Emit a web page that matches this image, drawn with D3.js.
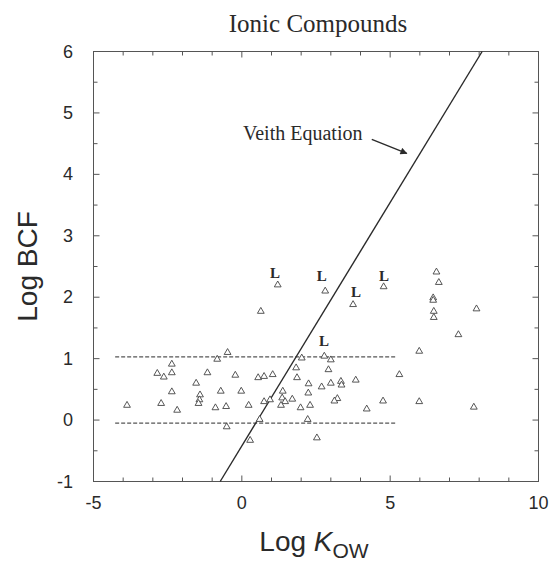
<!DOCTYPE html>
<html>
<head>
<meta charset="UTF-8">
<title>Ionic Compounds</title>
<script src="https://d3js.org/d3.v7.min.js"></script>
<style>
  body { margin: 0; background: #fff; }
</style>
</head>
<body>
<svg id="chart"></svg>
<script>
// data
var logKow = [-0.48, -0.83, -2.36, -2.36, -2.85, -2.63, -1.16, -0.22, 0.55, 0.75,
              -1.54, -2.36, -0.71, -0.02, -1.41, -1.43, -1.46, -3.87, -2.72, -0.89,
              -0.53, 0.23, -2.18, -0.51, 0.28, 2.02, 2.78, 3.00, 2.92, 1.83,
              1.04, 1.86, 2.25, 2.69, 3.00, 3.34, 3.36, 3.84, 5.31, 1.38,
              2.24, 0.75, 0.95, 1.36, 1.46, 1.70, 2.30, 1.98, 3.22, 3.12,
              4.76, 4.21, 0.60, 2.22, 2.53, 6.56, 6.64, 6.45, 6.45, 6.47,
              6.47, 7.91, 7.30, 5.98, 5.98, 7.82, 1.21, 2.81, 3.75, 4.78,
              0.64, 1.32];
var logBcf = [1.10, 0.99, 0.91, 0.77, 0.76, 0.70, 0.77, 0.73, 0.69, 0.71,
              0.60, 0.46, 0.47, 0.47, 0.41, 0.33, 0.27, 0.24, 0.27, 0.20,
              0.22, 0.24, 0.16, -0.11, -0.33, 1.01, 1.04, 0.98, 0.82, 0.85,
              0.74, 0.69, 0.59, 0.54, 0.60, 0.63, 0.57, 0.65, 0.74, 0.47,
              0.44, 0.30, 0.33, 0.36, 0.30, 0.34, 0.24, 0.20, 0.35, 0.31,
              0.31, 0.18, 0.01, 0.01, -0.29, 2.41, 2.24, 1.99, 1.95, 1.77,
              1.67, 1.81, 1.39, 1.12, 0.30, 0.21, 2.20, 2.10, 1.88, 2.17,
              1.77, 0.24];

// "L" annotations
var lLabelX = [1.12, 2.69, 3.85, 4.79, 2.77];
var lLabelY = [2.40, 2.34, 2.09, 2.34, 1.28];

// Veith equation line and the two dashed bounds
var veithX = [-0.73, 8.10];
var veithY = [-1, 6];
var boundX = [-4.27, 5.23];
var boundY = [1.03, -0.05];

var arrowFrom = [4.38, 4.57];
var arrowTo = [5.56, 4.34];
var veithLabelPos = [0.04, 4.56];

var xTickValues = d3.range(-5, 11, 1);
var xTickLabels = [-5, 0, 5, 10];
var yTickValues = d3.range(-1, 6.01, 0.5);
var yTickLabels = [-1, 0, 1, 2, 3, 4, 5, 6];

(function() {
    var width = 552;
    var height = 562;
    var left = 93.5, right = 538.5, top = 51.5, bottom = 481.5;

    var svg = d3.select("#chart")
        .attr("width", width)
        .attr("height", height);

    var x = d3.scaleLinear().domain([-5, 10]).range([left, right]);
    var y = d3.scaleLinear().domain([-1, 6]).range([bottom, top]);

    var sans = "'Liberation Sans', Arial, Helvetica, sans-serif";
    var serif = "'Liberation Serif', 'Times New Roman', serif";
    var ink = "#2a2a2a";

    svg.append("defs").append("marker")
        .attr("id", "head")
        .attr("viewBox", "0 0 10 10")
        .attr("refX", 9).attr("refY", 5)
        .attr("markerWidth", 9).attr("markerHeight", 7)
        .attr("markerUnits", "userSpaceOnUse")
        .attr("orient", "auto")
        .append("path")
        .attr("d", "M0,0 L10,5 L0,10 z")
        .attr("fill", ink);

    // frame
    svg.append("rect")
        .attr("x", left).attr("y", top)
        .attr("width", right - left).attr("height", bottom - top)
        .attr("fill", "none").attr("stroke", "#555").attr("stroke-width", 1);

    // ticks, all pointing inward, on the four sides
    var g = svg.append("g").attr("stroke", "#555").attr("stroke-width", 1);
    xTickValues.forEach(function(v) {
        var len = xTickLabels.indexOf(v) >= 0 ? 6 : 4;
        g.append("line").attr("x1", x(v)).attr("x2", x(v)).attr("y1", bottom).attr("y2", bottom - len);
        g.append("line").attr("x1", x(v)).attr("x2", x(v)).attr("y1", top).attr("y2", top + len);
    });
    yTickValues.forEach(function(v) {
        var len = yTickLabels.indexOf(v) >= 0 ? 6 : 4;
        g.append("line").attr("y1", y(v)).attr("y2", y(v)).attr("x1", left).attr("x2", left + len);
        g.append("line").attr("y1", y(v)).attr("y2", y(v)).attr("x1", right).attr("x2", right - len);
    });

    svg.selectAll(".xl")
        .data(xTickLabels)
        .enter().append("text")
        .attr("x", function(d) { return x(d); })
        .attr("y", 509)
        .attr("text-anchor", "middle")
        .attr("font-family", sans).attr("font-size", 18).attr("fill", ink)
        .text(function(d) { return d; });

    svg.selectAll(".yl")
        .data(yTickLabels)
        .enter().append("text")
        .attr("x", 73)
        .attr("y", function(d) { return y(d) + 6; })
        .attr("text-anchor", "end")
        .attr("font-family", sans).attr("font-size", 18).attr("fill", ink)
        .text(function(d) { return d; });

    // titles
    svg.append("text")
        .attr("x", 318).attr("y", 32)
        .attr("text-anchor", "middle")
        .attr("font-family", serif).attr("font-size", 25).attr("fill", ink)
        .text("Ionic Compounds");

    svg.append("text")
        .attr("transform", "translate(37," + ((top + bottom) / 2) + ") rotate(-90)")
        .attr("text-anchor", "middle")
        .attr("font-family", sans).attr("font-size", 28).attr("fill", ink)
        .text("Log BCF");

    var xt = svg.append("text")
        .attr("x", 314).attr("y", 551)
        .attr("text-anchor", "middle")
        .attr("font-family", sans).attr("font-size", 28).attr("fill", ink);
    xt.append("tspan").text("Log ");
    xt.append("tspan").attr("font-style", "italic").text("K");
    xt.append("tspan").attr("font-size", 21).attr("dy", 7).text("OW");

    // dashed bounds
    boundY.forEach(function(v) {
        svg.append("line")
            .attr("x1", x(boundX[0])).attr("x2", x(boundX[1]))
            .attr("y1", y(v)).attr("y2", y(v))
            .attr("stroke", "#555").attr("stroke-width", 1.3)
            .attr("stroke-dasharray", "4,2");
    });

    // Veith line
    svg.append("line")
        .attr("x1", x(veithX[0])).attr("y1", y(veithY[0]))
        .attr("x2", x(veithX[1])).attr("y2", y(veithY[1]))
        .attr("stroke", ink).attr("stroke-width", 1.4);

    svg.append("text")
        .attr("x", x(veithLabelPos[0])).attr("y", y(veithLabelPos[1]))
        .attr("font-family", serif).attr("font-size", 20).attr("fill", ink)
        .text("Veith Equation");

    svg.append("line")
        .attr("x1", x(arrowFrom[0])).attr("y1", y(arrowFrom[1]))
        .attr("x2", x(arrowTo[0])).attr("y2", y(arrowTo[1]))
        .attr("stroke", ink).attr("stroke-width", 1.3)
        .attr("marker-end", "url(#head)");

    // points
    var tri = d3.symbol().type(d3.symbolTriangle).size(20);
    svg.append("g").selectAll("path")
        .data(logKow.map(function(v, i) { return [v, logBcf[i]]; }))
        .enter().append("path")
        .attr("d", tri)
        .attr("transform", function(d) { return "translate(" + x(d[0]) + "," + y(d[1]) + ")"; })
        .attr("fill", "#fff")
        .attr("stroke", "#444")
        .attr("stroke-width", 0.9);

    // L annotations
    svg.append("g").selectAll("text")
        .data(lLabelX.map(function(v, i) { return [v, lLabelY[i]]; }))
        .enter().append("text")
        .attr("x", function(d) { return x(d[0]); })
        .attr("y", function(d) { return y(d[1]) + 5; })
        .attr("text-anchor", "middle")
        .attr("font-family", serif).attr("font-size", 15).attr("font-weight", "bold")
        .attr("fill", ink)
        .text("L");
})();
</script>
</body>
</html>
